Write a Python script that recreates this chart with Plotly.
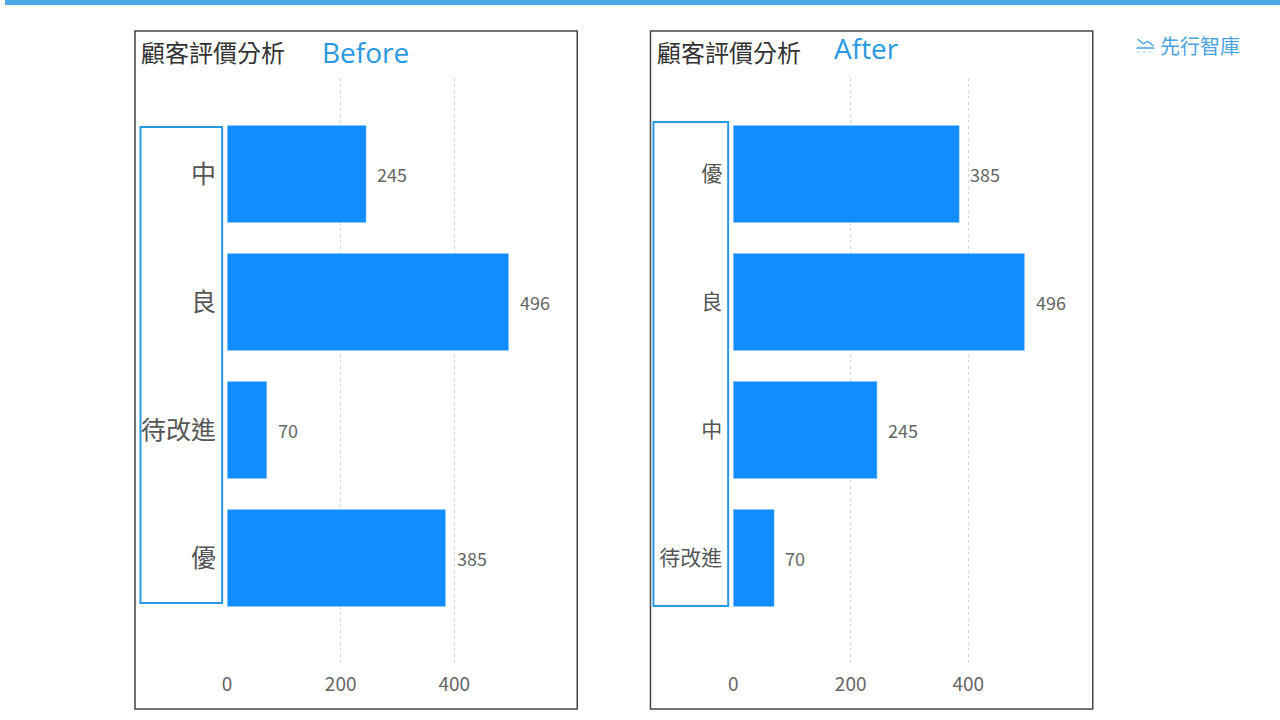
import plotly.graph_objects as go

# Data
before_cats = ["中", "良", "待改進", "優"]
before_vals = [245, 496, 70, 385]
after_cats = ["優", "良", "中", "待改進"]
after_vals = [385, 496, 245, 70]
x_ticks = [0, 200, 400]

W, H = 1280, 720
BAR = "#118DFF"
FONT = "Noto Sans CJK TC"

def px(x):
    return x / W

def py(y):
    return 1 - y / H

fig = go.Figure()
fig.add_trace(go.Bar(y=before_cats, x=before_vals, orientation="h", marker_color=BAR,
                     xaxis="x", yaxis="y", hoverinfo="x+y"))
fig.add_trace(go.Bar(y=after_cats, x=after_vals, orientation="h", marker_color=BAR,
                     xaxis="x2", yaxis="y2", hoverinfo="x+y"))

annotations = []
for c, v in zip(before_cats, before_vals):
    annotations.append(dict(x=v, y=c, xref="x", yref="y", text=str(v), showarrow=False,
                            xanchor="left", xshift=9, font=dict(size=18, color="#666", family=FONT)))
for c, v in zip(after_cats, after_vals):
    annotations.append(dict(x=v, y=c, xref="x2", yref="y2", text=str(v), showarrow=False,
                            xanchor="left", xshift=9, font=dict(size=18, color="#666", family=FONT)))

# Titles
annotations += [
    dict(x=px(135), y=py(52), xref="paper", yref="paper", text="顧客評價分析", showarrow=False,
         xanchor="left", yanchor="middle", font=dict(size=24, color="#333", family=FONT)),
    dict(x=px(316), y=py(52), xref="paper", yref="paper", text="Before", showarrow=False,
         xanchor="left", yanchor="middle", font=dict(size=28, color="#2899E0", family="Open Sans")),
    dict(x=px(653), y=py(52), xref="paper", yref="paper", text="顧客評價分析", showarrow=False,
         xanchor="left", yanchor="middle", font=dict(size=24, color="#333", family=FONT)),
    dict(x=px(830), y=py(48), xref="paper", yref="paper", text="After", showarrow=False,
         xanchor="left", yanchor="middle", font=dict(size=28, color="#2899E0", family="Open Sans")),
    dict(x=px(1158), y=py(45), xref="paper", yref="paper", text="先行智庫", showarrow=False,
         xanchor="left", yanchor="middle", font=dict(size=20, color="#4AA3DF", family=FONT)),
]

shapes = [
    # top strip
    dict(type="rect", xref="paper", yref="paper", x0=0, x1=1, y0=py(5), y1=1,
         line=dict(width=0), fillcolor="#4DA6E8", layer="above"),
    # panel borders
    dict(type="rect", xref="paper", yref="paper", x0=px(130.5), x1=px(574.5), y0=py(709), y1=py(31),
         line=dict(color="#444", width=1.5)),
    dict(type="rect", xref="paper", yref="paper", x0=px(648), x1=px(1092), y0=py(709), y1=py(31),
         line=dict(color="#444", width=1.5)),
    # category highlight boxes
    dict(type="rect", xref="paper", yref="paper", x0=px(136), x1=px(218), y0=py(603), y1=py(127),
         line=dict(color="#2899E0", width=2)),
    dict(type="rect", xref="paper", yref="paper", x0=px(651), x1=px(726), y0=py(606), y1=py(122),
         line=dict(color="#2899E0", width=2)),
    # logo icon
    dict(type="line", xref="paper", yref="paper", x0=px(1137), x1=px(1143), y0=py(39), y1=py(44),
         line=dict(color="#4AA3DF", width=1.5)),
    dict(type="line", xref="paper", yref="paper", x0=px(1143), x1=px(1147), y0=py(44), y1=py(41),
         line=dict(color="#4AA3DF", width=1.5)),
    dict(type="line", xref="paper", yref="paper", x0=px(1147), x1=px(1153), y0=py(41), y1=py(46),
         line=dict(color="#4AA3DF", width=1.5)),
    dict(type="line", xref="paper", yref="paper", x0=px(1136), x1=px(1154), y0=py(48), y1=py(48),
         line=dict(color="#4AA3DF", width=1.5)),
    dict(type="line", xref="paper", yref="paper", x0=px(1136), x1=px(1154), y0=py(52), y1=py(52),
         line=dict(color="#9FCDEF", width=1, dash="dot")),
]

y_top, y_bot = 78, 665
# index 0 at pixel 174, 128 px per category
r_top = (y_top - 174) / 128
r_bot = (y_bot - 174) / 128

def xaxis(d0, d1, rng, anchor):
    return dict(domain=[px(d0), px(d1)], range=[0, rng], anchor=anchor, tickvals=x_ticks,
                showgrid=True, gridcolor="#D6D6D6", griddash="dot", gridwidth=1,
                zeroline=False, showline=False, ticks="",
                tickfont=dict(size=19, color="#666", family=FONT), ticklabelstandoff=6)

def yaxis(cats, anchor, size):
    return dict(domain=[py(y_bot), py(y_top)], range=[r_bot, r_top], anchor=anchor,
                type="category", categoryorder="array", categoryarray=cats,
                showgrid=False, zeroline=False, showline=False, ticks="",
                tickfont=dict(size=size, color="#555", family=FONT), ticklabelstandoff=10)

fig.update_layout(
    width=W, height=H, margin=dict(l=0, r=0, t=0, b=0),
    paper_bgcolor="white", plot_bgcolor="white", showlegend=False,
    bargap=0.24,
    xaxis=xaxis(223, 560, (560 - 223) / 0.57, "y"),
    yaxis=yaxis(before_cats, "x", 25),
    xaxis2=xaxis(731, 1080, (1080 - 731) / 0.59, "y2"),
    yaxis2=yaxis(after_cats, "x2", 21),
    annotations=annotations, shapes=shapes,
)

fig.write_html(
    "out.html",
    config={"displayModeBar": False},
    post_script="document.body.style.margin='0';document.documentElement.style.overflow='hidden';",
)
